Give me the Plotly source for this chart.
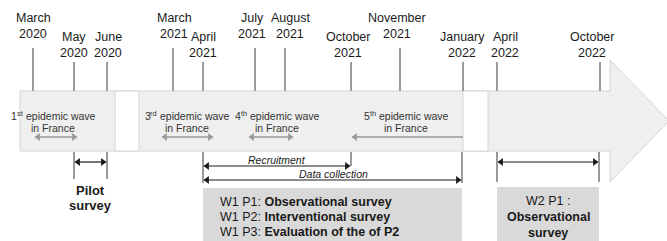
import plotly.graph_objects as go

# ---- data ----
milestone_month = ["March", "May", "June", "March", "April", "July", "August",
                   "October", "November", "January", "April", "October"]
milestone_year = ["2020", "2020", "2020", "2021", "2021", "2021", "2021",
                  "2021", "2021", "2022", "2022", "2022"]
milestone_pos = [33, 74, 107, 173, 203, 255, 285, 351, 400, 463, 497, 600]
label_pos = [33, 74, 108, 174, 203, 252, 290, 348, 397, 462, 505, 592]
label_row = [0, 1, 1, 0, 1, 0, 0, 1, 0, 1, 1, 1]

wave_number = ["1", "3", "4", "5"]
wave_suffix = ["st", "rd", "th", "th"]
wave_center = [53, 187, 277, 406]
wave_start = [35, 162, 249, 352]
wave_end = [77, 213, 293, 463]

period_start = [75, 204, 204, 498]
period_end = [106, 350, 461, 598]
period_level = [162, 166, 180, 162]

FONT = "Arial, Liberation Sans, sans-serif"

fig = go.Figure()
shapes = []
ann = []

# big arrow
shapes.append(dict(type="path", path="M20,91 L610,91 L610,60 L669,121 L610,182 L610,151 L20,151 Z",
                   fillcolor="#efefef", line=dict(color="#d4d4d4", width=1), layer="below"))
for a, b in [(115, 139), (463, 488)]:
    shapes.append(dict(type="rect", x0=a, x1=b, y0=91, y1=151, fillcolor="white",
                       line=dict(color="#d4d4d4", width=1), layer="below"))

# milestone ticks and labels
for m, yv, p, lp, r in zip(milestone_month, milestone_year, milestone_pos, label_pos, label_row):
    ytop = 48 if r == 0 else 62
    shapes.append(dict(type="line", x0=p, x1=p, y0=ytop, y1=91,
                       line=dict(color="#7a7a7a", width=1.5)))
    y1 = 18 if r == 0 else 37
    ann.append(dict(x=lp, y=y1, text=m, showarrow=False, xanchor="center", yanchor="middle",
                    font=dict(family=FONT, size=12.5, color="#1a1a1a")))
    ann.append(dict(x=lp, y=y1 + 15.5, text=yv, showarrow=False, xanchor="center", yanchor="middle",
                    font=dict(family=FONT, size=12.5, color="#1a1a1a")))


def arrows(starts, ends, ys, color, width, msize, right_flags):
    lx, ly, mx, my, ms = [], [], [], [], []
    off = msize * 0.45
    for s, e, y, rf in zip(starts, ends, ys, right_flags):
        lx += [s, e, None]
        ly += [y, y, None]
        mx.append(s + off); my.append(y); ms.append("triangle-left")
        if rf:
            mx.append(e - off); my.append(y); ms.append("triangle-right")
    fig.add_trace(go.Scatter(x=lx, y=ly, mode="lines", line=dict(color=color, width=width),
                             hoverinfo="skip", showlegend=False))
    fig.add_trace(go.Scatter(x=mx, y=my, mode="markers",
                             marker=dict(symbol=ms, size=msize, color=color, line=dict(width=0)),
                             hoverinfo="skip", showlegend=False))


# epidemic waves (superscript drawn as a separate small text)
FS, SS = 10.5, 7.5
char_w = {"s": 0.5, "t": 0.278, "r": 0.333, "d": 0.556, "h": 0.556}
main_w = 6.613 * FS
for n, suf, c in zip(wave_number, wave_suffix, wave_center):
    dw = 0.556 * FS
    sw = sum(char_w[ch] for ch in suf) * SS
    spw = 0.278 * FS
    left = c - (dw + sw + spw + main_w) / 2
    base = dict(showarrow=False, yanchor="middle", xanchor="left", borderpad=0, borderwidth=0)
    ann.append(dict(x=left, y=116, text=n, font=dict(family=FONT, size=FS, color="#333333"), **base))
    ann.append(dict(x=left + dw, y=113, text=suf, font=dict(family=FONT, size=SS, color="#333333"), **base))
    ann.append(dict(x=left + dw + sw + spw, y=116, text="epidemic wave",
                    font=dict(family=FONT, size=FS, color="#333333"), **base))
    ann.append(dict(x=c, y=127.5, text="in France", showarrow=False, xanchor="center", yanchor="middle",
                    font=dict(family=FONT, size=FS, color="#333333")))
arrows(wave_start, wave_end, [137] * 4, "#9a9a9a", 1.3, 7, [True, True, True, False])

# bracket lines below
for x0, y0, y1 in [(74, 152, 179), (107, 152, 179), (203, 152, 183), (351, 152, 166),
                   (462, 152, 183), (497, 152, 182), (599, 152, 182)]:
    shapes.append(dict(type="line", x0=x0, x1=x0, y0=y0, y1=y1, line=dict(color="#555555", width=1.2)))

arrows(period_start, period_end, period_level, "#1a1a1a", 1.2, 7, [True] * 4)

ann.append(dict(x=90, y=190, text="<b>Pilot</b>", showarrow=False, font=dict(family=FONT, size=13, color="#1a1a1a")))
ann.append(dict(x=90, y=205.5, text="<b>survey</b>", showarrow=False, font=dict(family=FONT, size=13, color="#1a1a1a")))
ann.append(dict(x=277, y=160, text="<i>Recruitment</i>", showarrow=False, font=dict(family=FONT, size=10.5, color="#1a1a1a")))
ann.append(dict(x=333, y=173.5, text="<i>Data collection</i>", showarrow=False, font=dict(family=FONT, size=10.5, color="#1a1a1a")))

# boxes
shapes.append(dict(type="rect", x0=203, x1=462, y0=188, y1=245, fillcolor="#d9d9d9", line=dict(width=0), layer="below"))
shapes.append(dict(type="rect", x0=497, x1=599, y0=187, y1=245, fillcolor="#d9d9d9", line=dict(width=0), layer="below"))

w1 = ["W1 P1: <b>Observational survey</b>", "W1 P2: <b>Interventional survey</b>",
      "W1 P3: <b>Evaluation of the of P2</b>"]
for k, t in enumerate(w1):
    ann.append(dict(x=218, y=202 + 15 * k, text=t, showarrow=False, xanchor="left", yanchor="middle",
                    font=dict(family=FONT, size=12.5, color="#1a1a1a")))
w2 = ["W2 P1 :", "<b>Observational</b>", "<b>survey</b>"]
for k, t in enumerate(w2):
    ann.append(dict(x=548, y=200.5 + 16 * k, text=t, showarrow=False, xanchor="center", yanchor="middle",
                    font=dict(family=FONT, size=12.5, color="#1a1a1a")))

fig.update_layout(width=667, height=241, autosize=False, margin=dict(l=0, r=0, t=0, b=0),
                  paper_bgcolor="white", plot_bgcolor="white", shapes=shapes, annotations=ann,
                  showlegend=False,
                  xaxis=dict(range=[0, 667], visible=False, fixedrange=True),
                  yaxis=dict(range=[241, 0], visible=False, fixedrange=True))
fig.write_html("out.html", config={"displayModeBar": False},
               post_script="document.body.style.margin='0';document.body.style.overflow='hidden';")
